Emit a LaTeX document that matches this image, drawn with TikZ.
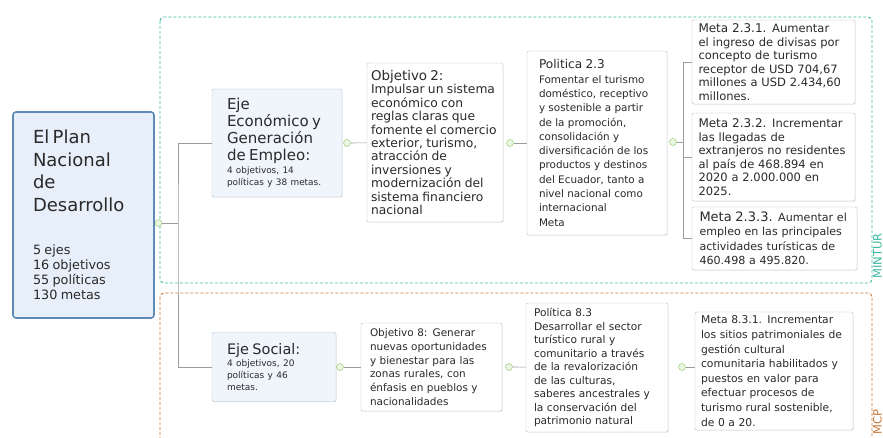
\documentclass[tikz,border=0pt]{standalone}
\usepackage{fontspec}
\setmainfont{DejaVu Sans}
\usepackage{tikz}
\usetikzlibrary{shadows}
\usepackage{xcolor}
\definecolor{plandraw}{HTML}{5E8AB8}
\definecolor{planfill}{HTML}{E7EFFA}
\definecolor{ejedraw}{HTML}{AFC0D3}
\definecolor{ejefill}{HTML}{F0F5FB}
\definecolor{hojadraw}{HTML}{B8B8B8}
\definecolor{linea}{HTML}{9C9C9C}
\definecolor{puntodraw}{HTML}{8CC56A}
\definecolor{puntofill}{HTML}{EAF5E2}
\definecolor{mintur}{HTML}{3DB8A0}
\definecolor{mcp}{HTML}{C47A3C}
\definecolor{texto}{HTML}{2A2A2A}
\newcommand{\fsz}[2]{\fontsize{#1}{#2}\selectfont}
\tikzset{
    plan/.style={
        draw=plandraw,
        fill=planfill,
        line width=1.6pt,
        rounded corners=3pt,
        align=left,
        inner sep=0pt,
        text=texto
    },
    eje/.style={
        draw=ejedraw,
        fill=ejefill,
        rounded corners=2pt,
        align=left,
        inner sep=0pt,
        text=texto,
        drop shadow={opacity=0.12, shadow xshift=0.8pt, shadow yshift=-0.8pt}
    },
    hoja/.style={
        draw=hojadraw,
        fill=white,
        rounded corners=2pt,
        align=left,
        inner sep=0pt,
        text=texto,
        drop shadow={opacity=0.12, shadow xshift=0.8pt, shadow yshift=-0.8pt}
    },
    punto/.style={
        circle,
        draw=puntodraw,
        fill=puntofill,
        minimum size=7pt,
        inner sep=0pt
    },
    conector/.style={draw=linea, line width=0.6pt},
    marco/.style={line width=0.9pt, dash pattern=on 3pt off 2pt, rounded corners=4pt}
}

\begin{document}
\begin{tikzpicture}[x=1pt, y=-1pt]
    \useasboundingbox (0,0) rectangle (883,438);
    \clip (0,0) rectangle (883,438);

    \draw[marco, draw=mintur] (160,17) rectangle (872,283);
    \draw[marco, draw=mcp] (160,293) rectangle (872,470);
    \node[rotate=90, text=mintur, font=\fsz{11.5}{14}] (lmintur) at (877.5,256) {MINTUR};
    \node[rotate=90, text=mcp, font=\fsz{11.5}{14}] (lmcp) at (877.5,422) {MCP};

    \node[plan, minimum width=141, minimum height=206, text width=101] (plan) at (83.5,215)
        {{\fsz{18}{22.5}El Plan\\Nacional\\de\\Desarrollo\par}\vspace{28pt}%
         {\fsz{12.8}{15}5 ejes\\16 objetivos\\55 políticas\\130 metas\par}};

    \node[eje, minimum width=130, minimum height=108, text width=100] (ejeEco) at (277,143)
        {{\fsz{15}{17}Eje\\Económico y\\Generación\\de Empleo:\par}%
         {\fsz{8.9}{12.5}4 objetivos, 14\\políticas y 38 metas.\par}};
    \node[hoja, minimum width=136, minimum height=159, text width=128] (obj2) at (435,142.5)
        {{\fsz{13.4}{15}Objetivo 2:\par}%
         {\fsz{12.3}{13.4}Impulsar un sistema\\económico con\\reglas claras que\\fomente el comercio\\exterior, turismo,\\atracción de\\inversiones y\\modernización del\\sistema financiero\\nacional\par}};
    \node[hoja, minimum width=140, minimum height=184, text width=116] (pol23) at (597,143)
        {{\fsz{12.1}{14}Politica 2.3\par}%
         {\fsz{10.4}{14.3}Fomentar el turismo\\doméstico, receptivo\\y sostenible a partir\\de la promoción,\\consolidación y\\diversificación de los\\productos y destinos\\del Ecuador, tanto a\\nivel nacional como\\internacional\\Meta\par}};
    \node[hoja, minimum width=163, minimum height=84, text width=150, font=\fsz{11.5}{13.5}] (m231) at (773.5,62)
        {{\fsz{12}{13.5}Meta 2.3.1.} Aumentar\\el ingreso de divisas por\\concepto de turismo\\receptor de USD 704,67\\millones a USD 2.434,60\\millones.};
    \node[hoja, minimum width=163, minimum height=88, text width=150, font=\fsz{11.5}{13.5}] (m232) at (773.5,157)
        {{\fsz{12}{13.5}Meta 2.3.2.} Incrementar\\las llegadas de\\extranjeros no residentes\\al país de 468.894 en\\2020 a 2.000.000 en\\2025.};
    \node[hoja, minimum width=165, minimum height=63, text width=150, font=\fsz{11.1}{14.5}] (m233) at (774.5,238.5)
        {{\fsz{13}{14.5}Meta 2.3.3.} Aumentar el\\empleo en las principales\\actividades turísticas de\\460.498 a 495.820.};

    \node[eje, minimum width=124, minimum height=69, text width=94] (ejeSoc) at (274,367)
        {{\fsz{14.5}{17}Eje Social:\par}%
         {\fsz{9}{12}4 objetivos, 20\\políticas y 46\\metas.\par}};
    \node[hoja, minimum width=141, minimum height=88, text width=123, font=\fsz{10.45}{13.7}] (obj8) at (431.5,367)
        {Objetivo 8: Generar\\nuevas oportunidades\\y bienestar para las\\zonas rurales, con\\énfasis en pueblos y\\nacionalidades};
    \node[hoja, minimum width=142, minimum height=129, text width=126, font=\fsz{10.6}{13.5}] (pol83) at (597,367.5)
        {Política 8.3\\Desarrollar el sector\\turístico rural y\\comunitario a través\\de la revalorización\\de las culturas,\\saberes ancestrales y\\la conservación del\\patrimonio natural};
    \node[hoja, minimum width=158, minimum height=118, text width=146, font=\fsz{10.75}{14.6}] (m831) at (774,371)
        {Meta 8.3.1. Incrementar\\los sitios patrimoniales de\\gestión cultural\\comunitaria habilitados y\\puestos en valor para\\efectuar procesos de\\turismo rural sostenible,\\de 0 a 20.};

    \node[punto] (pPlan) at (158.5,223) {};
    \node[punto] (pEco) at (347,143) {};
    \node[punto] (pObj2) at (510,143) {};
    \node[punto] (pPol23) at (673,142) {};
    \node[punto] (pSoc) at (340,367) {};
    \node[punto] (pObj8) at (509,367) {};
    \node[punto] (pPol83) at (682,367) {};
    \coordinate (tronco) at (178,223);
    \coordinate (rama) at (683.5,142);

    \draw[conector] (pPlan) -- (tronco);
    \draw[conector] (ejeEco.west) -| (tronco) |- (ejeSoc.west);
    \draw[conector] (pEco) -- (obj2);
    \draw[conector] (pObj2) -- (pol23);
    \draw[conector] (pPol23) -- (rama);
    \draw[conector] (m231.west) -| (rama) |- (m233.west);
    \draw[conector] (m232.west) -- (m232.west -| rama);
    \draw[conector] (pSoc) -- (obj8);
    \draw[conector] (pObj8) -- (pol83);
    \draw[conector] (pPol83) -- (m831.west |- pPol83);
\end{tikzpicture}
\end{document}
